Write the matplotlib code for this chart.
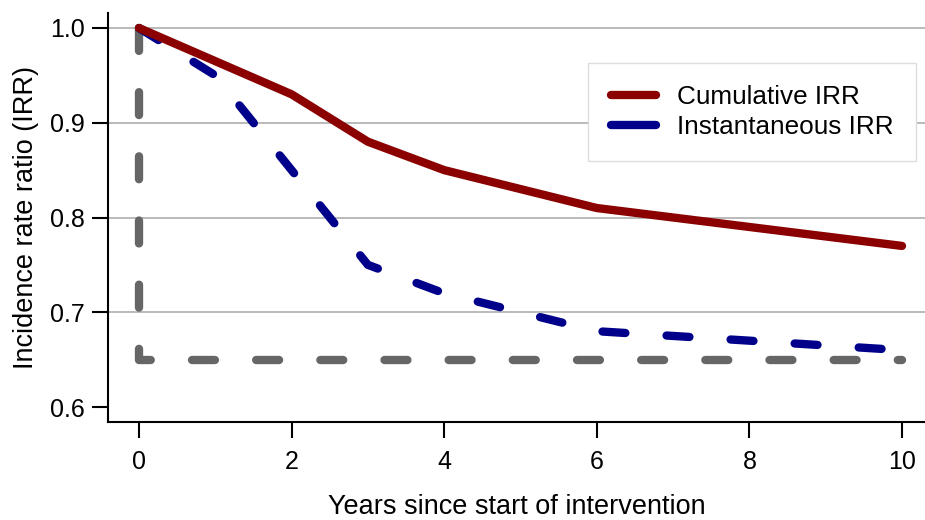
import matplotlib.pyplot as plt
from matplotlib.lines import Line2D

plt.rcParams["font.family"] = ["Liberation Sans", "DejaVu Sans"]

# years and incidence rate ratios
cum_years = [0, 2, 3, 4, 6, 10]
cum_irr = [1.0, 0.93, 0.88, 0.85, 0.81, 0.77]

inst_years = [0, 1, 2, 3, 4, 6, 10]
inst_irr = [1.0, 0.95, 0.85, 0.75, 0.72, 0.68, 0.66]

# reference line: vertical at start, then flat floor
ref_years = [0, 0, 10]
ref_irr = [1.0, 0.65, 0.65]

y_ticks = [0.6, 0.7, 0.8, 0.9, 1.0]
grid_levels = [0.7, 0.8, 0.9, 1.0]
x_ticks = [0, 2, 4, 6, 8, 10]

RED = "#8b0000"
BLUE = "#00008b"
LW = 6

fig = plt.figure(figsize=(9.25, 5.2), dpi=100)
ax = fig.add_axes([108 / 925, 1 - 422 / 520, 1 - 108 / 925, (422 - 13) / 520])

for lvl in grid_levels:
    ax.axhline(lvl, color="#b4b4b4", lw=1.3, zorder=1)

dash = (0, (2.75, 4.95))
ax.plot(ref_years, ref_irr, color="#666666", lw=LW, ls=dash,
        dash_capstyle="round", dash_joinstyle="round", zorder=2)
ax.plot(inst_years, inst_irr, color=BLUE, lw=LW, ls=dash,
        dash_capstyle="round", dash_joinstyle="round", zorder=3)
ax.plot(cum_years, cum_irr, color=RED, lw=LW,
        solid_capstyle="round", solid_joinstyle="round", zorder=4)

ax.set_xlim(-31 / 76.3, 10 + 23 / 76.3)
ax.set_ylim(0.6 - 15 / 948, 1.0 + 15 / 948)
ax.set_xticks(x_ticks)
ax.set_yticks(y_ticks)
ax.set_yticklabels([f"{v:.1f}" for v in y_ticks])

for side in ("top", "right"):
    ax.spines[side].set_visible(False)
for side in ("left", "bottom"):
    ax.spines[side].set_linewidth(1.5)
ax.tick_params(axis="both", direction="out", length=11.5, width=1.5,
               labelsize=18, colors="black")
ax.tick_params(axis="x", pad=9)
ax.tick_params(axis="y", pad=5)

ax.set_xlabel("Years since start of intervention", fontsize=19.5, labelpad=14)
ax.set_ylabel("Incidence rate ratio (IRR)", fontsize=19.5, labelpad=8)

# legend keys are drawn solid in the reference
handles = [
    Line2D([], [], color=RED, lw=LW, solid_capstyle="round"),
    Line2D([], [], color=BLUE, lw=LW, solid_capstyle="round"),
]
leg = ax.legend(handles, ["Cumulative IRR", "Instantaneous IRR"],
                loc="upper right",
                bbox_to_anchor=(916 / 925, 1 - 63 / 520),
                bbox_transform=fig.transFigure,
                fontsize=18.8, frameon=True, fancybox=False,
                edgecolor="#dddddd", framealpha=1, handlelength=1.75,
                handletextpad=0.8, labelspacing=0.22, borderpad=0.85,
                borderaxespad=0)
leg.get_frame().set_linewidth(1.0)

fig.savefig("out.png", dpi=100, facecolor="white")
